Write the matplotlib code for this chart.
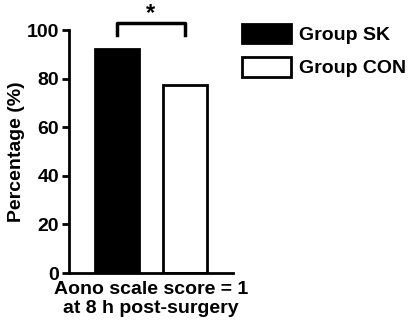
import matplotlib.pyplot as plt
from matplotlib.patches import Patch

plt.rcParams['font.family'] = 'Liberation Sans'
plt.rcParams['font.weight'] = 'bold'

grupos = ['Group SK', 'Group CON']
percentual = [92.3, 77.4]
cores = ['black', 'white']
xlabel = 'Aono scale score = 1\nat 8 h post-surgery'

fig = plt.figure(figsize=(4.08, 3.31), dpi=100)
ax = fig.add_axes([0.169, 0.175, 0.402, 0.734])

x = range(len(grupos))
ax.bar(x, percentual, width=0.65, color=cores, edgecolor='black', linewidth=2)

ax.set_xlim(-0.7, 1.7)
ax.set_ylim(0, 100)
ax.set_yticks([0, 20, 40, 60, 80, 100])
ax.set_xticks([])
ax.tick_params(axis='y', width=2, length=5, labelsize=14, pad=2)
for s in ['top', 'right']:
    ax.spines[s].set_visible(False)
for s in ['left', 'bottom']:
    ax.spines[s].set_linewidth(2)

ax.set_ylabel('Percentage (%)', fontsize=14, fontweight='bold', labelpad=1)
ax.set_xlabel(xlabel, fontsize=14, fontweight='bold', labelpad=6, linespacing=1.15)

# significancia
ax.plot([0, 0, 1, 1], [98, 103, 103, 98], color='black', lw=2.5, clip_on=False)
ax.text(0.5, 104, '*', ha='center', va='baseline', fontsize=17, fontweight='bold')

handles = [Patch(facecolor=c, edgecolor='black', linewidth=2) for c in cores]
fig.legend(handles, grupos, loc='upper left', bbox_to_anchor=(0.56, 0.97),
           frameon=False, fontsize=14, handlelength=2.5, handleheight=1.2,
           handletextpad=0.45, labelspacing=0.65, borderpad=0.2)

fig.savefig('out.png', dpi=100)
